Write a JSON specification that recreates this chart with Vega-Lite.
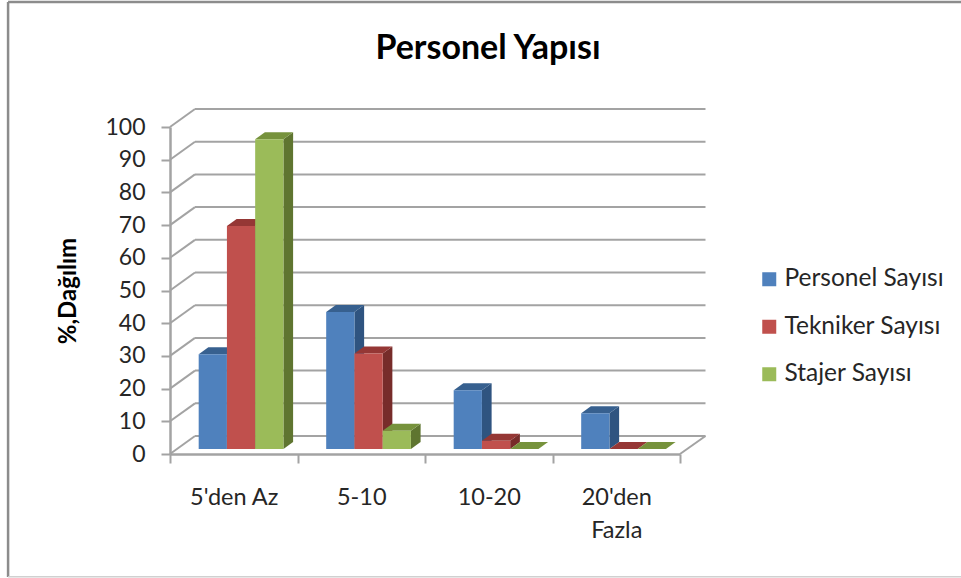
{
"$schema":"https://vega.github.io/schema/vega-lite/v6.json",
"width":510,"height":327,
"autosize":{"type":"none"},
"padding":{"left":170,"top":127,"right":281,"bottom":124},
"background":"white",
"config":{"view":{"stroke":null},"font":"Lato"},
"title":{"text":"Personel Yapısı","font":"Lato","fontSize":34,"fontWeight":"bold","color":"#000000","anchor":"middle","dx":63,"offset":-65},
"datasets":{
"bars":[
{"category":"5'den Az","series":"Personel Sayısı","value":29},
{"category":"5'den Az","series":"Tekniker Sayısı","value":68.2},
{"category":"5'den Az","series":"Stajer Sayısı","value":94.7},
{"category":"5-10","series":"Personel Sayısı","value":41.9},
{"category":"5-10","series":"Tekniker Sayısı","value":29.2},
{"category":"5-10","series":"Stajer Sayısı","value":5.6},
{"category":"10-20","series":"Personel Sayısı","value":18},
{"category":"10-20","series":"Tekniker Sayısı","value":2.5},
{"category":"10-20","series":"Stajer Sayısı","value":0},
{"category":"20'den Fazla","series":"Personel Sayısı","value":10.9},
{"category":"20'den Fazla","series":"Tekniker Sayısı","value":0},
{"category":"20'den Fazla","series":"Stajer Sayısı","value":0}
],
"ticks":[{"tick":0},{"tick":10},{"tick":20},{"tick":30},{"tick":40},{"tick":50},{"tick":60},{"tick":70},{"tick":80},{"tick":90},{"tick":100}]
},
"layer":[
{"data":{"values":[{"edge":"frame"}]},"mark":{"type":"rule","color":"#8c8c8c","strokeWidth":2.5},
 "encoding":{"x":{"datum":-1.27,"type":"quantitative","scale":{"domain":[0,4],"nice":false,"zero":false},"axis":null},"y":{"datum":-37.6,"type":"quantitative","scale":{"domain":[0,100],"nice":false},"axis":null},"y2":{"datum":138.2}}},
{"data":{"values":[{"edge":"frame"}]},"mark":{"type":"rule","color":"#8c8c8c","strokeWidth":2.5},
 "encoding":{"x":{"datum":-1.27,"type":"quantitative","scale":{"domain":[0,4],"nice":false,"zero":false},"axis":null},"x2":{"datum":6.3},"y":{"datum":138.2,"type":"quantitative","scale":{"domain":[0,100],"nice":false},"axis":null}}},
{"data":{"values":[{"edge":"frame"}]},"mark":{"type":"rule","color":"#d0d0d0","strokeWidth":1.5},
 "encoding":{"x":{"datum":-1.27,"type":"quantitative","scale":{"domain":[0,4],"nice":false,"zero":false},"axis":null},"x2":{"datum":6.3},"y":{"datum":-37.5,"type":"quantitative","scale":{"domain":[0,100],"nice":false},"axis":null}}},
{"data":{"name":"ticks"},"transform":[{"calculate":"datum.tick+5.5","as":"back"}],
 "mark":{"type":"rule","color":"#a3a3a3","strokeWidth":2},
 "encoding":{
  "x":{"datum":0.196,"type":"quantitative","scale":{"domain":[0,4],"nice":false,"zero":false},
   "axis":{"orient":"bottom","title":null,"values":[0,1,2,3,4],"labels":false,"ticks":true,"tickSize":9,"tickWidth":2,"tickColor":"#a3a3a3","domainWidth":2.5,"domainColor":"#a3a3a3","grid":false}},
  "x2":{"datum":4.2},
  "y":{"field":"back","type":"quantitative","scale":{"domain":[0,100],"nice":false,"zero":false},"axis":null}}},
{"data":{"name":"ticks"},"transform":[{"calculate":"datum.tick+5.5","as":"back"}],
 "mark":{"type":"rule","color":"#a3a3a3","strokeWidth":2},
 "encoding":{
  "x":{"datum":0,"type":"quantitative","scale":{"domain":[0,4],"nice":false,"zero":false},"axis":null},
  "x2":{"datum":0.196},
  "y":{"field":"tick","type":"quantitative","scale":{"domain":[0,100],"nice":false,"zero":false},
   "axis":{"orient":"left","title":"%,Dağılım","titleFont":"Lato","titleFontSize":24,"titleFontWeight":"bold","titleColor":"#000000","titlePadding":24,"values":[0,10,20,30,40,50,60,70,80,90,100],"labelFont":"Lato","labelFontSize":23,"labelColor":"#262626","labelPadding":16,"tickSize":9,"tickWidth":2,"tickColor":"#a3a3a3","domainWidth":2.5,"domainColor":"#a3a3a3","grid":false}},
  "y2":{"field":"back"}}},
{"data":{"values":[{"tick":0}]},"transform":[{"calculate":"datum.tick+5.5","as":"back"}],
 "mark":{"type":"rule","color":"#a3a3a3","strokeWidth":2},
 "encoding":{
  "x":{"datum":4,"type":"quantitative","scale":{"domain":[0,4],"nice":false,"zero":false},"axis":null},
  "x2":{"datum":4.2},
  "y":{"field":"tick","type":"quantitative","scale":{"domain":[0,100],"nice":false,"zero":false},"axis":null},
  "y2":{"field":"back"}}},
{"data":{"name":"bars"},
 "transform":[
  {"calculate":"indexof(['5\\'den Az','5-10','10-20','20\\'den Fazla'],datum.category)+0.225+0.2215*indexof(['Personel Sayısı','Tekniker Sayısı','Stajer Sayısı'],datum.series)","as":"left"},
  {"calculate":"datum.left+0.2215","as":"right"},
  {"calculate":"datum.value+1.53","as":"top"},
  {"calculate":"0","as":"near"},{"calculate":"1","as":"far"},
  {"fold":["near","far"],"as":["face","t"]},
  {"calculate":"datum.right+datum.t*0.076","as":"sx"},
  {"calculate":"datum.top+datum.t*2.14","as":"sy"},
  {"calculate":"1.53+datum.t*2.14","as":"sy2"},
  {"calculate":"datum.category+datum.series","as":"bar"}
 ],
 "mark":{"type":"area","orient":"vertical","interpolate":"linear"},
 "encoding":{
  "x":{"field":"sx","type":"quantitative","scale":{"domain":[0,4],"nice":false,"zero":false},"axis":null},
  "y":{"field":"sy","type":"quantitative","stack":null,"scale":{"domain":[0,100],"nice":false,"zero":false},"axis":null},
  "y2":{"field":"sy2"},
  "detail":{"field":"bar"},
  "color":{"field":"series","type":"nominal","legend":null,"scale":{"domain":["Personel Sayısı","Tekniker Sayısı","Stajer Sayısı"],"range":["#2f5480","#772c2a","#5f7530"]}}}},
{"data":{"name":"bars"},
 "transform":[
  {"calculate":"indexof(['5\\'den Az','5-10','10-20','20\\'den Fazla'],datum.category)+0.225+0.2215*indexof(['Personel Sayısı','Tekniker Sayısı','Stajer Sayısı'],datum.series)","as":"left"},
  {"calculate":"datum.left+0.2215","as":"right"},
  {"calculate":"datum.value+1.53","as":"top"},
  {"calculate":"0","as":"near"},{"calculate":"1","as":"far"},
  {"fold":["near","far"],"as":["face","t"]},
  {"calculate":"datum.left+datum.t*0.076","as":"tx"},
  {"calculate":"datum.right+datum.t*0.076","as":"tx2"},
  {"calculate":"datum.top+datum.t*2.14","as":"ty"},
  {"calculate":"datum.category+datum.series","as":"bar"}
 ],
 "mark":{"type":"area","orient":"horizontal","interpolate":"linear"},
 "encoding":{
  "y":{"field":"ty","type":"quantitative","scale":{"domain":[0,100],"nice":false,"zero":false},"axis":null},
  "x":{"field":"tx","type":"quantitative","stack":null,"scale":{"domain":[0,4],"nice":false,"zero":false},"axis":null},
  "x2":{"field":"tx2"},
  "detail":{"field":"bar"},
  "color":{"field":"series","type":"nominal","legend":null,"scale":{"domain":["Personel Sayısı","Tekniker Sayısı","Stajer Sayısı"],"range":["#37608f","#953735","#76923c"]}}}},
{"data":{"name":"bars"},
 "transform":[
  {"calculate":"indexof(['5\\'den Az','5-10','10-20','20\\'den Fazla'],datum.category)+0.225+0.2215*indexof(['Personel Sayısı','Tekniker Sayısı','Stajer Sayısı'],datum.series)","as":"left"},
  {"calculate":"datum.left+0.2215","as":"right"},
  {"calculate":"datum.value+1.53","as":"top"},
  {"calculate":"1.53","as":"base"}
 ],
 "mark":{"type":"rect"},
 "encoding":{
  "x":{"field":"left","type":"quantitative","scale":{"domain":[0,4],"nice":false,"zero":false},
   "axis":{"orient":"bottom","title":null,"values":[0.5,1.5,2.5,3.5],"labelExpr":"datum.value==0.5?'5\\'den Az':datum.value==1.5?'5-10':datum.value==2.5?'10-20':['20\\'den','Fazla']","ticks":false,"domain":false,"grid":false,"labelFont":"Lato","labelFontSize":23.5,"labelColor":"#262626","labelPadding":31,"labelLineHeight":33,"labelOverlap":false,"labelAngle":0,"labelAlign":"center","labelBaseline":"top"}},
  "x2":{"field":"right"},
  "y":{"field":"top","type":"quantitative","scale":{"domain":[0,100],"nice":false,"zero":false},"axis":null},
  "y2":{"field":"base"},
  "color":{"field":"series","type":"nominal","scale":{"domain":["Personel Sayısı","Tekniker Sayısı","Stajer Sayısı"],"range":["#4f81bd","#c0504d","#9bbb59"]},
   "legend":{"title":null,"orient":"none","legendX":587,"legendY":140,"symbolType":"square","symbolSize":196,"symbolStrokeWidth":0,"symbolOpacity":1,"labelFont":"Lato","labelFontSize":24.5,"labelColor":"#262626","labelOffset":3,"rowPadding":22.5,"values":["Personel Sayısı","Tekniker Sayısı","Stajer Sayısı"]}}}}
],
"resolve":{"scale":{"color":"independent"},"axis":{"x":"independent","y":"independent"}}
}
